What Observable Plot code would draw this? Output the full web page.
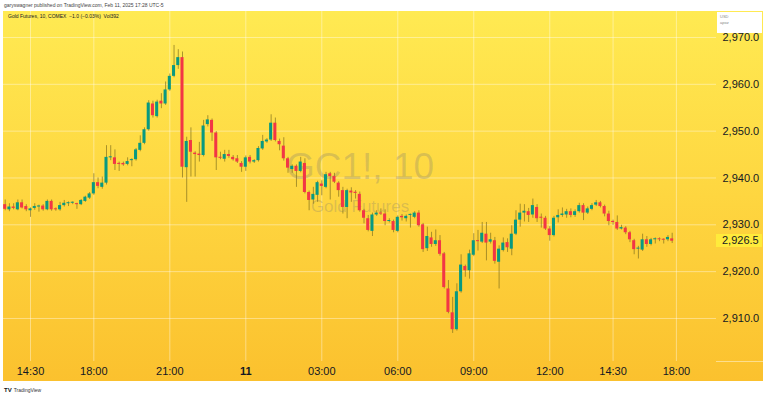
<!DOCTYPE html>
<html><head><meta charset="utf-8">
<script src="https://cdn.jsdelivr.net/npm/d3@7"></script>
<script src="https://cdn.jsdelivr.net/npm/@observablehq/plot@0.6"></script>
<style>
html,body{margin:0;padding:0;background:#fff;}
#wrap{position:relative;width:768px;height:397px;overflow:hidden;font-family:"Liberation Sans",Arial,sans-serif;}
#panel{position:absolute;left:3px;top:11px;width:760px;height:370px;background:linear-gradient(to bottom,#FFEA52 0%,#FED640 50%,#FBC12E 100%);}
#chart{position:absolute;left:0;top:0;}
#pub{position:absolute;left:4px;top:2px;font-size:5px;color:#444;white-space:nowrap;}
#legend{position:absolute;left:8px;top:13px;font-size:5px;color:#131722;white-space:nowrap;}
#usd{position:absolute;left:717px;top:12px;width:45px;height:21px;background:#fff;font-size:4px;color:#888;line-height:6px;padding:2px 0 0 3px;box-sizing:border-box;}
#sep{position:absolute;left:716px;top:361px;width:47px;height:1px;background:rgba(255,255,255,0.45);}
#last{position:absolute;left:716px;width:46px;height:13px;background:#FFEB3B;font-size:11px;color:#131722;line-height:13px;padding-left:6px;box-sizing:border-box;}
#tv{position:absolute;left:4px;top:387px;font-size:5px;color:#333;white-space:nowrap;}
#tv b{font-size:6px;color:#131722;margin-right:2px;}
</style></head>
<body>
<div id="wrap">
  <div id="panel"></div>
  <div id="chart"></div>
  <div id="pub">garyswagner published on TradingView.com, Feb 11, 2025 17:28 UTC-5</div>
  <div id="legend">Gold Futures, 10, COMEX &nbsp;−1.0 (−0.03%) &nbsp;Vol392</div>
  <div id="usd">USD<br>apoz</div>
  <div id="sep"></div>
  <div id="tv"><b>TV</b>TradingView</div>
</div>
<script>
// 10-minute candles, index 0 = first bar
const opens = [2934.3,2933.2,2933.8,2933.2,2934.7,2933.9,2933.0,2933.5,2933.8,2934.0,
2933.2,2935.0,2933.3,2933.2,2934.1,2934.5,2934.6,2934.4,2934.3,2935.0,
2935.7,2936.6,2939.0,2938.0,2938.9,2944.3,2944.3,2943.0,2943.1,2942.9,
2943.7,2943.9,2945.9,2947.4,2950.3,2955.8,2953.1,2956.4,2955.8,2958.8,
2961.7,2964.0,2965.7,2942.2,2948.0,2945.3,2945.1,2944.8,2951.4,2952.3,
2949.6,2944.4,2944.0,2945.0,2944.4,2944.1,2943.1,2942.3,2944.4,2943.4,
2943.7,2946.2,2947.7,2948.1,2951.7,2947.8,2946.8,2944.1,2941.8,2942.5,
2941.4,2943.1,2936.9,2935.3,2936.3,2938.7,2938.0,2940.9,2940.3,2938.9,
2937.3,2933.7,2937.2,2936.95,2936.5,2933.0,2931.3,2928.6,2932.1,2932.5,
2932.3,2930.7,2930.7,2928.6,2931.8,2931.3,2932.0,2931.6,2932.5,2930.0,
2924.9,2927.2,2925.8,2926.6,2923.8,2916.3,2911.2,2907.6,2915.7,2921.1,
2920.2,2923.5,2926.6,2926.3,2928.0,2926.3,2926.6,2922.0,2924.5,2926.2,
2924.8,2928.0,2931.0,2932.5,2932.8,2932.1,2933.7,2931.5,2931.4,2929.1,
2927.7,2931.5,2932.0,2932.1,2932.8,2932.0,2932.8,2934.1,2932.5,2933.3,
2934.2,2934.7,2933.9,2932.3,2930.7,2930.5,2929.1,2929.3,2928.3,2926.6,
2924.8,2924.6,2926.8,2925.8,2926.8,2926.9,2926.8,2926.8,2927.0];
const highs = [2935.3,2934.5,2934.5,2935.3,2935.3,2934.3,2933.6,2934.5,2934.2,2934.3,
2935.3,2935.3,2933.6,2934.8,2935.2,2934.9,2934.9,2934.6,2935.4,2936.1,
2936.9,2940.9,2940.0,2940.2,2946.9,2946.9,2946.0,2943.4,2943.4,2944.3,
2944.1,2946.3,2949.0,2950.7,2956.5,2956.4,2956.6,2958.0,2960.5,2962.2,
2968.3,2967.4,2966.9,2948.7,2950.7,2945.6,2947.6,2952.3,2953.3,2952.6,
2949.9,2945.5,2945.9,2945.9,2944.8,2944.8,2943.5,2944.7,2944.8,2943.9,
2946.7,2949.1,2948.4,2953.5,2952.8,2948.3,2948.6,2944.4,2942.8,2942.8,
2944.4,2944.1,2937.2,2938.0,2939.3,2939.4,2941.2,2941.2,2941.0,2939.2,
2938.0,2937.6,2937.9,2937.3,2937.0,2933.3,2932.0,2932.5,2933.0,2933.4,
2933.2,2931.3,2931.0,2931.9,2932.2,2932.1,2932.3,2932.8,2933.0,2930.3,
2929.5,2928.4,2928.9,2927.7,2924.1,2918.1,2914.5,2917.4,2923.6,2921.4,
2924.6,2928.1,2928.8,2930.5,2930.5,2928.2,2927.3,2925.5,2927.2,2927.0,
2929.8,2933.0,2934.4,2934.3,2933.5,2935.5,2934.3,2932.3,2931.8,2929.6,
2931.8,2933.2,2933.6,2933.3,2933.4,2933.2,2934.6,2934.5,2933.8,2934.5,
2935.2,2935.0,2934.2,2932.9,2931.0,2931.9,2929.9,2929.6,2928.6,2926.9,
2925.4,2928.0,2927.5,2927.1,2927.2,2927.2,2927.0,2927.7,2928.2];
const lows = [2933.0,2932.8,2933.2,2933.0,2933.4,2932.8,2931.6,2933.1,2932.7,2932.9,
2933.0,2932.9,2932.9,2932.9,2933.8,2933.9,2934.3,2933.3,2934.1,2934.8,
2935.4,2936.3,2937.7,2937.6,2938.5,2943.7,2941.6,2941.4,2942.5,2942.6,
2942.4,2943.6,2945.6,2947.1,2950.0,2952.8,2952.8,2954.8,2955.5,2958.5,
2961.4,2963.2,2940.0,2934.8,2940.2,2940.2,2943.4,2944.5,2950.9,2947.8,
2941.6,2943.9,2943.4,2944.2,2943.6,2943.1,2941.2,2941.4,2943.0,2943.1,
2943.4,2945.9,2947.4,2947.8,2947.7,2945.8,2943.6,2941.0,2941.0,2938.0,
2941.1,2936.6,2933.0,2934.4,2934.8,2936.2,2937.7,2935.3,2938.8,2935.9,
2932.3,2931.3,2934.8,2935.5,2932.7,2930.2,2928.5,2927.5,2931.8,2932.0,
2929.8,2930.4,2928.3,2928.3,2930.8,2930.6,2929.3,2931.3,2929.5,2924.1,
2924.3,2925.2,2925.4,2923.3,2916.3,2911.0,2906.8,2907.3,2915.4,2918.8,
2918.4,2923.2,2924.4,2926.0,2922.3,2925.9,2921.6,2916.3,2924.2,2924.1,
2923.4,2927.7,2929.5,2930.6,2930.5,2931.4,2930.5,2929.3,2928.8,2926.5,
2927.4,2930.4,2931.6,2931.4,2931.5,2931.6,2932.5,2930.9,2932.2,2933.0,
2933.9,2933.6,2931.7,2929.8,2929.9,2928.8,2928.9,2927.9,2926.2,2923.6,
2922.7,2924.3,2925.2,2925.5,2925.9,2926.4,2925.9,2926.4,2926.0];
const closes = [2933.3,2933.8,2933.5,2934.7,2933.6,2933.2,2933.4,2933.9,2934.0,2933.2,
2935.0,2933.2,2933.2,2934.1,2934.6,2934.7,2934.8,2934.3,2935.2,2935.9,
2936.6,2939.0,2938.2,2938.9,2944.4,2944.5,2942.9,2942.9,2942.8,2943.5,
2943.9,2946.0,2947.4,2950.3,2956.0,2953.3,2956.2,2955.8,2958.8,2961.7,
2964.0,2965.7,2942.3,2947.8,2945.5,2945.0,2944.8,2951.1,2952.4,2949.6,
2944.3,2944.2,2945.0,2944.6,2943.9,2943.4,2942.3,2944.3,2943.4,2943.7,
2946.3,2947.8,2948.1,2951.7,2948.0,2947.1,2944.1,2942.1,2942.5,2941.4,
2943.4,2936.9,2935.2,2936.5,2939.0,2938.2,2940.7,2940.3,2939.1,2937.3,
2933.7,2937.3,2936.8,2936.7,2933.0,2931.4,2928.8,2932.1,2932.5,2932.3,
2930.7,2930.9,2928.8,2931.6,2931.5,2931.8,2932.1,2932.5,2929.8,2924.7,
2927.5,2925.8,2926.6,2923.7,2916.6,2911.3,2907.6,2915.7,2921.4,2920.2,
2923.8,2926.6,2926.4,2928.2,2926.1,2926.8,2922.2,2924.8,2926.1,2925.1,
2928.0,2931.0,2932.5,2932.9,2932.0,2934.1,2931.3,2931.4,2929.1,2927.7,
2931.4,2932.0,2932.3,2932.8,2932.0,2932.8,2934.1,2932.5,2933.4,2934.1,
2934.7,2933.9,2932.3,2930.7,2930.5,2929.1,2929.4,2928.3,2926.8,2924.7,
2924.9,2926.8,2925.8,2926.8,2926.9,2926.8,2926.7,2927.3,2926.5];

const timeTickIndex = [6, 21, 39, 75, 93, 111, 129, 144, 159];
const timeTickLabels = ["14:30", "18:00", "21:00", "03:00", "06:00", "09:00", "12:00", "14:30", "18:00"];
const dayTickIndex = [57];
const dayTickLabels = ["11"];
const priceTicks = [2910, 2920, 2930, 2940, 2950, 2960, 2970];
const lastPrice = 2926.5;
const watermark = ["GC1!, 10", "Gold Futures"];

const candles = opens.map((o, i) => ({i, o, h: highs[i], l: lows[i], c: closes[i]}));
const up = candles.filter(d => d.c >= d.o);
const down = candles.filter(d => d.c < d.o);
const GREEN = "#089981", RED = "#F23645";
const bodyLo = d => Math.min(d.o, d.c);
const bodyHi = d => Math.max(d.o, d.c, Math.min(d.o, d.c) + 0.22);

const chart = Plot.plot({
  width: 768, height: 397,
  marginLeft: 3, marginRight: 52, marginTop: 11, marginBottom: 36,
  style: {background: "transparent", fontFamily: "Liberation Sans, Arial, sans-serif", fontSize: "11px", color: "#131722", overflow: "visible"},
  x: {type: "linear", domain: [-0.4, 168.5]},
  y: {domain: [2900.81, 2975.55]},
  marks: [
    Plot.gridX(timeTickIndex.concat(dayTickIndex), {stroke: "#ffffff", strokeOpacity: 0.4}),
    Plot.gridY(priceTicks, {stroke: "#ffffff", strokeOpacity: 0.4}),
    Plot.text([watermark[0]], {frameAnchor: "middle", dy: -19, fontSize: 37, fill: "#7d7a70", fillOpacity: 0.28}),
    Plot.text([watermark[1]], {frameAnchor: "middle", dy: 20, fontSize: 17, fill: "#7d7a70", fillOpacity: 0.28}),
    Plot.ruleX(candles, {x: "i", y1: "l", y2: "h", stroke: "#7a6a1c", strokeOpacity: 0.65, strokeWidth: 1}),
    Plot.rect(up, {x1: d => d.i - 0.36, x2: d => d.i + 0.36, y1: bodyLo, y2: bodyHi, fill: GREEN}),
    Plot.rect(down, {x1: d => d.i - 0.36, x2: d => d.i + 0.36, y1: bodyLo, y2: bodyHi, fill: RED}),
    Plot.axisX(timeTickIndex, {tickSize: 0, tickPadding: 6, tickFormat: d => timeTickLabels[timeTickIndex.indexOf(d)], label: null, fill: "#131722"}),
    Plot.axisX(dayTickIndex, {tickSize: 0, tickPadding: 6, tickFormat: d => dayTickLabels[dayTickIndex.indexOf(d)], label: null, fontWeight: "bold", fill: "#131722"}),
    Plot.axisY(priceTicks, {anchor: "right", tickSize: 0, tickPadding: 6, tickFormat: d3.format(",.1f"), label: null, fill: "#131722"})
  ]
});
document.getElementById("chart").appendChild(chart);

const yy = chart.scale("y").apply(lastPrice);
const lab = document.createElement("div");
lab.id = "last";
lab.style.top = (yy - 6.5) + "px";
lab.textContent = d3.format(",.1f")(lastPrice);
document.getElementById("wrap").appendChild(lab);
</script>
</body></html>
